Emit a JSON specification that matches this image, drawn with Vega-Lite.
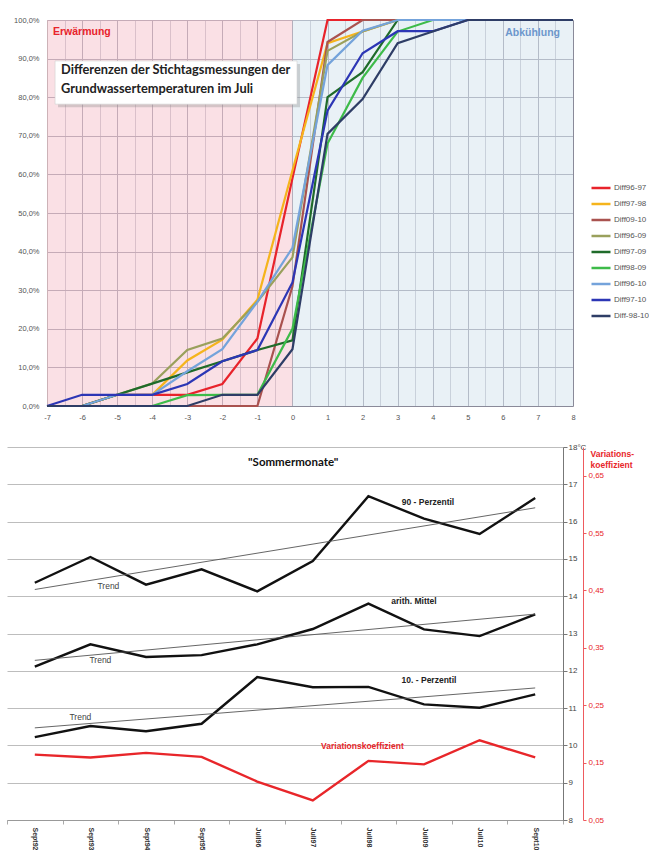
{
  "$schema": "https://vega.github.io/schema/vega-lite/v6.json",
  "padding": {"left": 4, "top": 15, "right": 0, "bottom": 0},
  "config": {"font": "Liberation Sans", "view": {"stroke": null}, "axis": {"labelOverlap": false}},
  "spacing": 22,
  "resolve": {"scale": {"color": "independent"}, "legend": {"color": "independent"}},
  "datasets": {
    "cumulative": [
      {"series": "Diff96-97", "diff": -7, "share": 0}, {"series": "Diff96-97", "diff": -6, "share": 0}, {"series": "Diff96-97", "diff": -5, "share": 2.9}, {"series": "Diff96-97", "diff": -4, "share": 2.9}, {"series": "Diff96-97", "diff": -3, "share": 2.9}, {"series": "Diff96-97", "diff": -2, "share": 5.7}, {"series": "Diff96-97", "diff": -1, "share": 17.5}, {"series": "Diff96-97", "diff": 0, "share": 59}, {"series": "Diff96-97", "diff": 1, "share": 100}, {"series": "Diff96-97", "diff": 2, "share": 100}, {"series": "Diff96-97", "diff": 3, "share": 100}, {"series": "Diff96-97", "diff": 4, "share": 100}, {"series": "Diff96-97", "diff": 5, "share": 100}, {"series": "Diff96-97", "diff": 6, "share": 100}, {"series": "Diff96-97", "diff": 7, "share": 100}, {"series": "Diff96-97", "diff": 8, "share": 100},
      {"series": "Diff97-98", "diff": -7, "share": 0}, {"series": "Diff97-98", "diff": -6, "share": 0}, {"series": "Diff97-98", "diff": -5, "share": 2.9}, {"series": "Diff97-98", "diff": -4, "share": 2.9}, {"series": "Diff97-98", "diff": -3, "share": 11.8}, {"series": "Diff97-98", "diff": -2, "share": 17.2}, {"series": "Diff97-98", "diff": -1, "share": 27.5}, {"series": "Diff97-98", "diff": 0, "share": 61}, {"series": "Diff97-98", "diff": 1, "share": 94}, {"series": "Diff97-98", "diff": 2, "share": 97}, {"series": "Diff97-98", "diff": 3, "share": 100}, {"series": "Diff97-98", "diff": 4, "share": 100}, {"series": "Diff97-98", "diff": 5, "share": 100}, {"series": "Diff97-98", "diff": 6, "share": 100}, {"series": "Diff97-98", "diff": 7, "share": 100}, {"series": "Diff97-98", "diff": 8, "share": 100},
      {"series": "Diff09-10", "diff": -7, "share": 0}, {"series": "Diff09-10", "diff": -6, "share": 0}, {"series": "Diff09-10", "diff": -5, "share": 0}, {"series": "Diff09-10", "diff": -4, "share": 0}, {"series": "Diff09-10", "diff": -3, "share": 0}, {"series": "Diff09-10", "diff": -2, "share": 0}, {"series": "Diff09-10", "diff": -1, "share": 0}, {"series": "Diff09-10", "diff": 0, "share": 31}, {"series": "Diff09-10", "diff": 1, "share": 94.3}, {"series": "Diff09-10", "diff": 2, "share": 100}, {"series": "Diff09-10", "diff": 3, "share": 100}, {"series": "Diff09-10", "diff": 4, "share": 100}, {"series": "Diff09-10", "diff": 5, "share": 100}, {"series": "Diff09-10", "diff": 6, "share": 100}, {"series": "Diff09-10", "diff": 7, "share": 100}, {"series": "Diff09-10", "diff": 8, "share": 100},
      {"series": "Diff96-09", "diff": -7, "share": 0}, {"series": "Diff96-09", "diff": -6, "share": 0}, {"series": "Diff96-09", "diff": -5, "share": 2.9}, {"series": "Diff96-09", "diff": -4, "share": 5.8}, {"series": "Diff96-09", "diff": -3, "share": 14.5}, {"series": "Diff96-09", "diff": -2, "share": 17.5}, {"series": "Diff96-09", "diff": -1, "share": 27}, {"series": "Diff96-09", "diff": 0, "share": 38.5}, {"series": "Diff96-09", "diff": 1, "share": 92}, {"series": "Diff96-09", "diff": 2, "share": 97}, {"series": "Diff96-09", "diff": 3, "share": 100}, {"series": "Diff96-09", "diff": 4, "share": 100}, {"series": "Diff96-09", "diff": 5, "share": 100}, {"series": "Diff96-09", "diff": 6, "share": 100}, {"series": "Diff96-09", "diff": 7, "share": 100}, {"series": "Diff96-09", "diff": 8, "share": 100},
      {"series": "Diff97-09", "diff": -7, "share": 0}, {"series": "Diff97-09", "diff": -6, "share": 0}, {"series": "Diff97-09", "diff": -5, "share": 2.9}, {"series": "Diff97-09", "diff": -4, "share": 5.8}, {"series": "Diff97-09", "diff": -3, "share": 8.7}, {"series": "Diff97-09", "diff": -2, "share": 11.6}, {"series": "Diff97-09", "diff": -1, "share": 14.5}, {"series": "Diff97-09", "diff": 0, "share": 17}, {"series": "Diff97-09", "diff": 1, "share": 80}, {"series": "Diff97-09", "diff": 2, "share": 86.5}, {"series": "Diff97-09", "diff": 3, "share": 100}, {"series": "Diff97-09", "diff": 4, "share": 100}, {"series": "Diff97-09", "diff": 5, "share": 100}, {"series": "Diff97-09", "diff": 6, "share": 100}, {"series": "Diff97-09", "diff": 7, "share": 100}, {"series": "Diff97-09", "diff": 8, "share": 100},
      {"series": "Diff98-09", "diff": -7, "share": 0}, {"series": "Diff98-09", "diff": -6, "share": 0}, {"series": "Diff98-09", "diff": -5, "share": 0}, {"series": "Diff98-09", "diff": -4, "share": 0}, {"series": "Diff98-09", "diff": -3, "share": 2.8}, {"series": "Diff98-09", "diff": -2, "share": 2.9}, {"series": "Diff98-09", "diff": -1, "share": 2.9}, {"series": "Diff98-09", "diff": 0, "share": 20}, {"series": "Diff98-09", "diff": 1, "share": 68}, {"series": "Diff98-09", "diff": 2, "share": 85}, {"series": "Diff98-09", "diff": 3, "share": 97}, {"series": "Diff98-09", "diff": 4, "share": 100}, {"series": "Diff98-09", "diff": 5, "share": 100}, {"series": "Diff98-09", "diff": 6, "share": 100}, {"series": "Diff98-09", "diff": 7, "share": 100}, {"series": "Diff98-09", "diff": 8, "share": 100},
      {"series": "Diff96-10", "diff": -7, "share": 0}, {"series": "Diff96-10", "diff": -6, "share": 0}, {"series": "Diff96-10", "diff": -5, "share": 2.9}, {"series": "Diff96-10", "diff": -4, "share": 2.9}, {"series": "Diff96-10", "diff": -3, "share": 9}, {"series": "Diff96-10", "diff": -2, "share": 14.7}, {"series": "Diff96-10", "diff": -1, "share": 27}, {"series": "Diff96-10", "diff": 0, "share": 41}, {"series": "Diff96-10", "diff": 1, "share": 88.3}, {"series": "Diff96-10", "diff": 2, "share": 97.2}, {"series": "Diff96-10", "diff": 3, "share": 100}, {"series": "Diff96-10", "diff": 4, "share": 100}, {"series": "Diff96-10", "diff": 5, "share": 100}, {"series": "Diff96-10", "diff": 6, "share": 100}, {"series": "Diff96-10", "diff": 7, "share": 100}, {"series": "Diff96-10", "diff": 8, "share": 100},
      {"series": "Diff97-10", "diff": -7, "share": 0}, {"series": "Diff97-10", "diff": -6, "share": 2.9}, {"series": "Diff97-10", "diff": -5, "share": 2.9}, {"series": "Diff97-10", "diff": -4, "share": 2.9}, {"series": "Diff97-10", "diff": -3, "share": 5.7}, {"series": "Diff97-10", "diff": -2, "share": 11.6}, {"series": "Diff97-10", "diff": -1, "share": 14.5}, {"series": "Diff97-10", "diff": 0, "share": 32}, {"series": "Diff97-10", "diff": 1, "share": 76.5}, {"series": "Diff97-10", "diff": 2, "share": 91.4}, {"series": "Diff97-10", "diff": 3, "share": 97.1}, {"series": "Diff97-10", "diff": 4, "share": 97.1}, {"series": "Diff97-10", "diff": 5, "share": 100}, {"series": "Diff97-10", "diff": 6, "share": 100}, {"series": "Diff97-10", "diff": 7, "share": 100}, {"series": "Diff97-10", "diff": 8, "share": 100},
      {"series": "Diff-98-10", "diff": -7, "share": 0}, {"series": "Diff-98-10", "diff": -6, "share": 0}, {"series": "Diff-98-10", "diff": -5, "share": 0}, {"series": "Diff-98-10", "diff": -4, "share": 0}, {"series": "Diff-98-10", "diff": -3, "share": 0}, {"series": "Diff-98-10", "diff": -2, "share": 2.9}, {"series": "Diff-98-10", "diff": -1, "share": 2.9}, {"series": "Diff-98-10", "diff": 0, "share": 14.7}, {"series": "Diff-98-10", "diff": 1, "share": 70.5}, {"series": "Diff-98-10", "diff": 2, "share": 79.5}, {"series": "Diff-98-10", "diff": 3, "share": 94}, {"series": "Diff-98-10", "diff": 4, "share": 97}, {"series": "Diff-98-10", "diff": 5, "share": 100}, {"series": "Diff-98-10", "diff": 6, "share": 100}, {"series": "Diff-98-10", "diff": 7, "share": 100}, {"series": "Diff-98-10", "diff": 8, "share": 100}
    ],
    "stats": [
      {"month": "Sept92", "series": "90 - Perzentil", "temp": 14.36}, {"month": "Sept93", "series": "90 - Perzentil", "temp": 15.05}, {"month": "Sept94", "series": "90 - Perzentil", "temp": 14.31}, {"month": "Sept95", "series": "90 - Perzentil", "temp": 14.72}, {"month": "Juli96", "series": "90 - Perzentil", "temp": 14.13}, {"month": "Juli97", "series": "90 - Perzentil", "temp": 14.94}, {"month": "Juli98", "series": "90 - Perzentil", "temp": 16.68}, {"month": "Juli09", "series": "90 - Perzentil", "temp": 16.08}, {"month": "Juli10", "series": "90 - Perzentil", "temp": 15.67}, {"month": "Sept10", "series": "90 - Perzentil", "temp": 16.63},
      {"month": "Sept92", "series": "arith. Mittel", "temp": 12.11}, {"month": "Sept93", "series": "arith. Mittel", "temp": 12.71}, {"month": "Sept94", "series": "arith. Mittel", "temp": 12.37}, {"month": "Sept95", "series": "arith. Mittel", "temp": 12.42}, {"month": "Juli96", "series": "arith. Mittel", "temp": 12.71}, {"month": "Juli97", "series": "arith. Mittel", "temp": 13.12}, {"month": "Juli98", "series": "arith. Mittel", "temp": 13.8}, {"month": "Juli09", "series": "arith. Mittel", "temp": 13.11}, {"month": "Juli10", "series": "arith. Mittel", "temp": 12.93}, {"month": "Sept10", "series": "arith. Mittel", "temp": 13.51},
      {"month": "Sept92", "series": "10. - Perzentil", "temp": 10.22}, {"month": "Sept93", "series": "10. - Perzentil", "temp": 10.52}, {"month": "Sept94", "series": "10. - Perzentil", "temp": 10.38}, {"month": "Sept95", "series": "10. - Perzentil", "temp": 10.58}, {"month": "Juli96", "series": "10. - Perzentil", "temp": 11.83}, {"month": "Juli97", "series": "10. - Perzentil", "temp": 11.56}, {"month": "Juli98", "series": "10. - Perzentil", "temp": 11.57}, {"month": "Juli09", "series": "10. - Perzentil", "temp": 11.1}, {"month": "Juli10", "series": "10. - Perzentil", "temp": 11.01}, {"month": "Sept10", "series": "10. - Perzentil", "temp": 11.37}
    ],
    "trends": [
      {"month": "Sept92", "series": "90 - Perzentil", "temp": 14.18}, {"month": "Sept10", "series": "90 - Perzentil", "temp": 16.37},
      {"month": "Sept92", "series": "arith. Mittel", "temp": 12.28}, {"month": "Sept10", "series": "arith. Mittel", "temp": 13.52},
      {"month": "Sept92", "series": "10. - Perzentil", "temp": 10.47}, {"month": "Sept10", "series": "10. - Perzentil", "temp": 11.54}
    ],
    "variation": [
      {"month": "Sept92", "cv": 0.164}, {"month": "Sept93", "cv": 0.159}, {"month": "Sept94", "cv": 0.167}, {"month": "Sept95", "cv": 0.16}, {"month": "Juli96", "cv": 0.117}, {"month": "Juli97", "cv": 0.084}, {"month": "Juli98", "cv": 0.153}, {"month": "Juli09", "cv": 0.147}, {"month": "Juli10", "cv": 0.189}, {"month": "Sept10", "cv": 0.159}
    ]
  },
  "vconcat": [
    {
      "width": 566,
      "height": 386,
      "layer": [
        {
          "data": {"values": [{"zone": "Erwärmung", "from": -7, "to": 0}, {"zone": "Abkühlung", "from": 0, "to": 8}]},
          "mark": {"type": "rect", "fillOpacity": 0.55},
          "encoding": {
            "x": {
              "field": "from", "type": "quantitative", "title": null,
              "scale": {"domain": [-7, 8], "range": [40, 566], "nice": false, "zero": false},
              "axis": {
                "tickCount": 30,
                "labelExpr": "datum.value % 1 === 0 ? '' + datum.value : ''",
                "labelOverlap": false,
                "grid": true,
                "gridColor": {"condition": {"test": "datum.value % 1 === 0", "value": "#8a8a99"}, "value": "#b9b9c4"},
                "gridWidth": 1,
                "domain": false, "ticks": false,
                "labelFontSize": 7.5, "labelColor": "#555", "labelPadding": 7, "labelFlush": false
              }
            },
            "x2": {"field": "to"},
            "fill": {"field": "zone", "type": "nominal", "scale": {"domain": ["Erwärmung", "Abkühlung"], "range": ["#f6c7d0", "#d7e6ef"]}, "legend": null}
          }
        },
        {
          "data": {"name": "cumulative"},
          "mark": {"type": "line", "strokeWidth": 2.2},
          "encoding": {
            "x": {"field": "diff", "type": "quantitative", "title": null},
            "y": {
              "field": "share", "type": "quantitative", "title": null,
              "scale": {"domain": [0, 100], "nice": false},
              "axis": {
                "tickCount": 11,
                "labelExpr": "replace(format(datum.value, '.1f'), '.', ',') + '%'",
                "labelOverlap": false,
                "offset": -40,
                "grid": true, "gridColor": "#8a8a99", "gridWidth": 1,
                "domain": true, "domainColor": "#9a9a9a", "ticks": false,
                "labelFontSize": 7.5, "labelColor": "#555", "labelPadding": 8
              }
            },
            "color": {
              "field": "series", "type": "nominal",
              "scale": {
                "domain": ["Diff96-97", "Diff97-98", "Diff09-10", "Diff96-09", "Diff97-09", "Diff98-09", "Diff96-10", "Diff97-10", "Diff-98-10"],
                "range": ["#e8232b", "#f5b41c", "#a9524f", "#9aa05c", "#1f6b2a", "#3dbb49", "#74a3db", "#2c36b5", "#2e3d66"]
              },
              "legend": {
                "title": null, "orient": "none", "legendX": 583, "legendY": 157,
                "symbolType": "stroke", "symbolSize": 361, "symbolStrokeWidth": 2.5,
                "labelFontSize": 8, "labelColor": "#555", "labelOffset": 2, "rowPadding": -3
              }
            }
          }
        },
        {
          "data": {"values": [{"heading": "Differenzen der Stichtagsmessungen  der"}]},
          "mark": {"type": "rect", "fill": "#8c8c8c", "opacity": 0.35, "xOffset": 3, "x2Offset": 3, "yOffset": 3, "y2Offset": 3},
          "encoding": {"x": {"datum": -6.77}, "x2": {"datum": 0.13}, "y": {"datum": 89.4}, "y2": {"datum": 78.2}}
        },
        {
          "data": {"values": [{"heading": "Differenzen der Stichtagsmessungen  der"}]},
          "mark": {"type": "rect", "fill": "white", "stroke": "#d0d0d0", "strokeWidth": 0.6},
          "encoding": {"x": {"datum": -6.77}, "x2": {"datum": 0.13}, "y": {"datum": 89.4}, "y2": {"datum": 78.2}}
        },
        {
          "data": {"values": [{"heading": "Differenzen der Stichtagsmessungen  der"}]},
          "mark": {"type": "text", "font": "Lato", "fontWeight": "bold", "fontSize": 12.8, "color": "#222", "align": "left", "baseline": "middle", "lineHeight": 19, "text": ["Differenzen der Stichtagsmessungen  der", "Grundwassertemperaturen  im Juli"]},
          "encoding": {"x": {"datum": -6.6}, "y": {"datum": 87.1}}
        },
        {
          "data": {"values": [{"zone": "Erwärmung"}]},
          "mark": {"type": "text", "fontWeight": "bold", "fontSize": 10.5, "color": "#e8232b", "align": "left", "baseline": "middle"},
          "encoding": {"x": {"datum": -6.83}, "y": {"datum": 96.9}, "text": {"field": "zone"}}
        },
        {
          "data": {"values": [{"zone": "Abkühlung"}]},
          "mark": {"type": "text", "fontWeight": "bold", "fontSize": 10.5, "color": "#6d97cc", "align": "right", "baseline": "middle"},
          "encoding": {"x": {"datum": 7.63}, "y": {"datum": 96.6}, "text": {"field": "zone"}}
        }
      ]
    },
    {
      "width": 556,
      "height": 373,
      "layer": [
        {
          "layer": [
            {
              "data": {"name": "stats"},
              "mark": {"type": "line", "color": "#111", "strokeWidth": 2.4},
              "encoding": {
                "x": {
                  "field": "month", "type": "nominal", "title": null, "bandPosition": 0.5,
                  "scale": {"type": "band", "domain": ["Sept92", "Sept93", "Sept94", "Sept95", "Juli96", "Juli97", "Juli98", "Juli09", "Juli10", "Sept10"], "paddingInner": 0, "paddingOuter": 0},
                  "axis": {
                    "tickBand": "extent", "labelAngle": 90, "labelFontSize": 7, "labelFontWeight": "bold", "labelColor": "#333",
                    "domainColor": "#999", "tickColor": "#aaa", "tickSize": 4, "labelPadding": 3, "grid": false
                  }
                },
                "y": {
                  "field": "temp", "type": "quantitative", "title": null,
                  "scale": {"domain": [8, 18], "nice": false, "zero": false},
                  "axis": {
                    "orient": "right", "tickCount": 10,
                    "labelExpr": "datum.value === 18 ? '18°C' : datum.label",
                    "labelOverlap": false,
                    "grid": true, "gridColor": "#bdbdbd", "gridWidth": 1.2,
                    "domainColor": "#777", "tickColor": "#777", "tickSize": 4,
                    "labelFontSize": 8, "labelColor": "#444", "labelPadding": 1
                  }
                },
                "detail": {"field": "series", "type": "nominal"}
              }
            },
            {
              "data": {"name": "trends"},
              "mark": {"type": "line", "color": "#555", "strokeWidth": 0.9},
              "encoding": {
                "x": {"field": "month", "type": "nominal", "bandPosition": 0.5},
                "y": {"field": "temp", "type": "quantitative"},
                "detail": {"field": "series", "type": "nominal"}
              }
            },
            {
              "data": {"values": [{"note": "Trend", "month": "Sept93", "temp": 14.27}]},
              "mark": {"type": "text", "fontSize": 8.5, "color": "#444", "dx": 18},
              "encoding": {"x": {"field": "month", "type": "nominal", "bandPosition": 0.5}, "y": {"field": "temp", "type": "quantitative"}, "text": {"field": "note"}}
            },
            {
              "data": {"values": [{"note": "Trend", "month": "Sept93", "temp": 12.29}]},
              "mark": {"type": "text", "fontSize": 8.5, "color": "#444", "dx": 10},
              "encoding": {"x": {"field": "month", "type": "nominal", "bandPosition": 0.5}, "y": {"field": "temp", "type": "quantitative"}, "text": {"field": "note"}}
            },
            {
              "data": {"values": [{"note": "Trend", "month": "Sept93", "temp": 10.76}]},
              "mark": {"type": "text", "fontSize": 8.5, "color": "#444", "dx": -10},
              "encoding": {"x": {"field": "month", "type": "nominal", "bandPosition": 0.5}, "y": {"field": "temp", "type": "quantitative"}, "text": {"field": "note"}}
            },
            {
              "data": {"values": [{"note": "90 - Perzentil", "month": "Juli09", "temp": 16.52}]},
              "mark": {"type": "text", "fontSize": 8.5, "fontWeight": "bold", "color": "#222", "dx": 4},
              "encoding": {"x": {"field": "month", "type": "nominal", "bandPosition": 0.5}, "y": {"field": "temp", "type": "quantitative"}, "text": {"field": "note"}}
            },
            {
              "data": {"values": [{"note": "arith. Mittel", "month": "Juli09", "temp": 13.87}]},
              "mark": {"type": "text", "fontSize": 8.5, "fontWeight": "bold", "color": "#222", "dx": -10},
              "encoding": {"x": {"field": "month", "type": "nominal", "bandPosition": 0.5}, "y": {"field": "temp", "type": "quantitative"}, "text": {"field": "note"}}
            },
            {
              "data": {"values": [{"note": "10. - Perzentil", "month": "Juli09", "temp": 11.74}]},
              "mark": {"type": "text", "fontSize": 8.5, "fontWeight": "bold", "color": "#222", "dx": 5},
              "encoding": {"x": {"field": "month", "type": "nominal", "bandPosition": 0.5}, "y": {"field": "temp", "type": "quantitative"}, "text": {"field": "note"}}
            },
            {
              "data": {"values": [{"note": "Variationskoeffizient", "month": "Juli98", "temp": 9.98}]},
              "mark": {"type": "text", "fontSize": 8.5, "fontWeight": "bold", "color": "#e8262a", "dx": -6},
              "encoding": {"x": {"field": "month", "type": "nominal", "bandPosition": 0.5}, "y": {"field": "temp", "type": "quantitative"}, "text": {"field": "note"}}
            },
            {
              "data": {"values": [{"note": "\"Sommermonate\"", "month": "Juli96", "temp": 17.56}]},
              "mark": {"type": "text", "font": "Lato", "fontSize": 11.5, "fontWeight": "bold", "color": "#111", "dx": 36},
              "encoding": {"x": {"field": "month", "type": "nominal", "bandPosition": 0.5}, "y": {"field": "temp", "type": "quantitative"}, "text": {"field": "note"}}
            }
          ]
        },
        {
          "data": {"name": "variation"},
          "mark": {"type": "line", "color": "#e8262a", "strokeWidth": 2.4},
          "encoding": {
            "x": {"field": "month", "type": "nominal", "bandPosition": 0.5},
            "y": {
              "field": "cv", "type": "quantitative",
              "scale": {"domain": [0.05, 0.7], "nice": false, "zero": false},
              "axis": {
                "orient": "right", "offset": 20,
                "values": [0.05, 0.15, 0.25, 0.35, 0.45, 0.55, 0.65],
                "labelExpr": "replace(format(datum.value, '.2f'), '.', ',')",
                "labelOverlap": false,
                "grid": false, "domainColor": "#ee5a5e", "tickColor": "#ee5a5e", "tickSize": 3,
                "labelColor": "#e8262a", "labelFontSize": 8, "labelPadding": 2,
                "title": ["Variations-", "koeffizient"], "titleColor": "#e8262a", "titleFontSize": 8.5, "titleFontWeight": "bold",
                "titleAngle": 0, "titleAlign": "left", "titleBaseline": "top", "titleX": 7, "titleY": 2, "titleLineHeight": 11
              }
            }
          }
        }
      ],
      "resolve": {"scale": {"y": "independent"}}
    }
  ]
}
